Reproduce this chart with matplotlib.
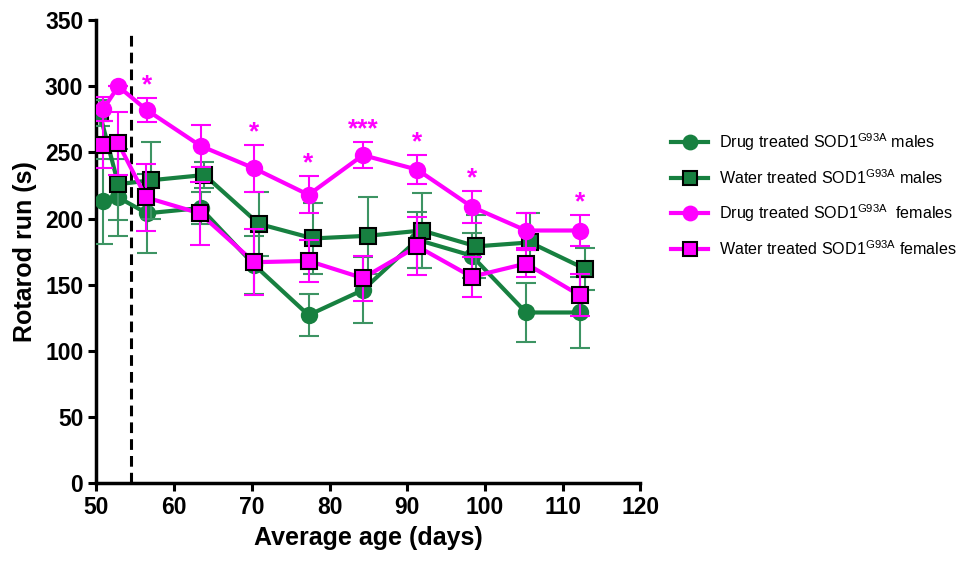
import matplotlib
matplotlib.use("Agg")
import matplotlib.pyplot as plt
from matplotlib.lines import Line2D

plt.rcParams['font.family'] = ['Liberation Sans', 'DejaVu Sans']
plt.rcParams['mathtext.fontset'] = 'custom'
plt.rcParams['mathtext.rm'] = 'Liberation Sans'

# ---- data ----
age_drug = [50.9, 52.8, 56.5, 63.4, 70.3, 77.3, 84.3, 91.3, 98.3, 105.3, 112.2]
age_water_m = [50.4, 52.8, 57.0, 63.9, 70.9, 77.9, 84.9, 91.9, 98.9, 105.8, 112.9]
age_water_f = [50.9, 52.8, 56.4, 63.3, 70.3, 77.3, 84.3, 91.3, 98.3, 105.3, 112.2]

drug_m = [213, 216, 204, 208, 165, 127, 146, 184, 172, 129, 129]
drug_m_err = [32, 29, 30, 12, 22, 16, 25, 21, 17, 22, 27]

water_m = [280, 226, 229, 233, 196, 185, 187, 191, 179, 182, 162]
water_m_err = [10, 27, 29, 10, 24, 27, 29, 28, 24, 22, 16]

drug_f = [283, 300, 282, 255, 238, 218, 248, 237, 209, 191, 191]
drug_f_err = [9, 0, 9, 16, 18, 14, 10, 11, 12, 13, 12]

water_f = [256, 257, 216, 204, 167, 168, 155, 179, 156, 166, 142]
water_f_err = [18, 24, 25, 24, 25, 16, 17, 22, 15, 10, 16]

# significance stars over drug-treated females
star_idx = [2, 4, 5, 6, 7, 8, 10]
star_txt = ['*', '*', '*', '***', '*', '*', '*']

treatment_start = 54.4

labels = [r'Drug treated SOD1$^{\mathregular{G93A}}$ males',
          r'Water treated SOD1$^{\mathregular{G93A}}$ males',
          r'Drug treated SOD1$^{\mathregular{G93A}}$  females',
          r'Water treated SOD1$^{\mathregular{G93A}}$ females']

green = '#178040'
magenta = '#FF00FF'

fig = plt.figure(figsize=(9.59, 5.63), dpi=100)
ax = fig.add_axes([0.1006, 0.142, 0.567, 0.822])

handles = []
def series(x, y, e, color, marker, label, ecolor, mec, ms, z):
    ax.errorbar(x, y, yerr=e, color=color, ecolor=ecolor, elinewidth=1.5,
                capsize=7, capthick=1.5, lw=3, marker=marker, ms=ms,
                mfc=color, mec=mec, mew=1.5, zorder=z)
    handles.append(Line2D([], [], color=color, lw=3, marker=marker, ms=ms * 0.9,
                          mfc=color, mec=mec, mew=1.5, label=label))

series(age_drug, drug_m, drug_m_err, green, 'o', labels[0], '#3d9463', green, 11, 3)
series(age_water_m, water_m, water_m_err, green, 's', labels[1], '#3d9463', 'black', 11, 4)
series(age_drug, drug_f, drug_f_err, magenta, 'o', labels[2], magenta, magenta, 11, 5)
series(age_water_f, water_f, water_f_err, magenta, 's', labels[3], magenta, 'black', 11, 6)

for i, t in zip(star_idx, star_txt):
    ax.text(age_drug[i], drug_f[i] + drug_f_err[i] + 0.5, t, color=magenta,
            ha='center', va='bottom', fontsize=19, fontweight='bold')

ax.plot([treatment_start, treatment_start], [0, 340], color='black', lw=2.2,
        ls=(0, (3.5, 2)), zorder=2)

ax.set_xlim(50, 120)
ax.set_ylim(0, 350)
ax.set_xticks(range(50, 121, 10))
ax.set_yticks(range(0, 351, 50))
for s in ['top', 'right']:
    ax.spines[s].set_visible(False)
for s in ['left', 'bottom']:
    ax.spines[s].set_linewidth(2.5)
ax.tick_params(width=2.2, length=6, labelsize=16.5)
for lab in ax.get_xticklabels() + ax.get_yticklabels():
    lab.set_fontweight('bold')
ax.set_xlabel('Average age (days)', fontsize=18, fontweight='bold', labelpad=5)
ax.set_ylabel('Rotarod run (s)', fontsize=18, fontweight='bold', labelpad=6)

fig.legend(handles=handles, loc='center left', bbox_to_anchor=(0.688, 0.655),
           frameon=False, fontsize=11.6, labelspacing=0.95, handlelength=2.3,
           handletextpad=0.7, borderpad=0.2)

fig.savefig('out.png', dpi=100)
